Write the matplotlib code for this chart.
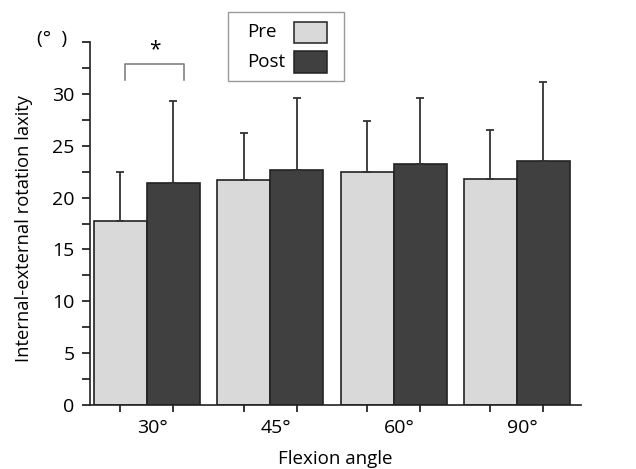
import matplotlib.pyplot as plt
from matplotlib.patches import Rectangle
import numpy as np

plt.rcParams["font.family"] = ["Open Sans", "DejaVu Sans"]

angles = ["30°", "45°", "60°", "90°"]
series = ["Pre", "Post"]
colors = ["#d9d9d9", "#404040"]
pre = [17.7, 21.7, 22.5, 21.8]
post = [21.4, 22.7, 23.2, 23.5]
pre_sd = [4.8, 4.5, 4.9, 4.7]
post_sd = [7.9, 6.9, 6.4, 7.6]

fig = plt.figure(figsize=(6.36, 4.69), dpi=100)
ax = fig.add_axes([0.1415, 0.1365, 0.772, 0.7739])

x = np.arange(len(angles))
w = 0.43
err_kw = dict(ecolor="#333333", elinewidth=1.3, capsize=3, capthick=1.3)
ax.bar(x - w / 2, pre, w, color=colors[0], edgecolor="#222222", linewidth=1.2,
       yerr=[np.zeros(4), pre_sd], error_kw=err_kw)
ax.bar(x + w / 2, post, w, color=colors[1], edgecolor="#222222", linewidth=1.2,
       yerr=[np.zeros(4), post_sd], error_kw=err_kw)

ax.set_xlim(-0.462, 3.52)
ax.set_ylim(0, 35)
ax.spines["top"].set_visible(False)
ax.spines["right"].set_visible(False)
for s in ["left", "bottom"]:
    ax.spines[s].set_linewidth(1.2)
    ax.spines[s].set_color("#222222")

ax.set_yticks(np.arange(0, 31, 5))
ax.set_yticks(np.arange(0, 35.1, 2.5), minor=True)
ax.set_xticks(np.concatenate([x - w / 2, x + w / 2]))
ax.set_xticklabels([])
for xi, lab in zip(x, angles):
    ax.text(xi + 0.045, -1.4, lab, ha="center", va="top", fontsize=14)
ax.tick_params(axis="y", which="both", direction="out", length=6, width=1.1,
               labelsize=14, pad=5)
ax.tick_params(axis="x", direction="out", length=5, width=1.1)

ax.set_xlabel("Flexion angle", fontsize=13.5, labelpad=24)
ax.set_ylabel("Internal-external rotation laxity", fontsize=13.2)
ax.yaxis.set_label_coords(-0.116, 0.485)
ax.text(-0.108, 35.3, "(°  )", transform=ax.get_yaxis_transform(), ha="left",
        va="center", fontsize=14)

# significance bracket
x0, x1 = -0.178, 0.30
ax.plot([x0, x0, x1, x1], [31.3, 32.9, 32.9, 31.3], color="#777777",
        lw=1.1, clip_on=False)
ax.text((x0 + x1) / 2, 33.2, "*", ha="center", va="bottom", fontsize=15)

# legend box, labels on the left, swatches on the right
ax.add_patch(Rectangle((0.281, 0.8926), 0.236, 0.19, transform=ax.transAxes,
                       facecolor="white", edgecolor="#999999", lw=1.0,
                       clip_on=False, zorder=4))
for i, (name, col) in enumerate(zip(series, colors)):
    yc = 1.0275 - i * 0.0826
    ax.text(0.3198, yc, name, transform=ax.transAxes, ha="left", va="center",
            fontsize=13.5, zorder=5)
    ax.add_patch(Rectangle((0.4155, yc - 0.029), 0.0672, 0.058,
                           transform=ax.transAxes, facecolor=col,
                           edgecolor="#222222", lw=1.1, clip_on=False, zorder=5))

fig.savefig("out.png", dpi=100)
